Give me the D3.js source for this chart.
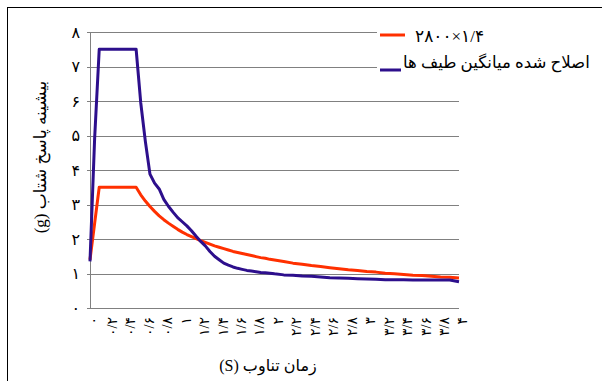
<!DOCTYPE html>
<html>
<head>
<meta charset="utf-8">
<script src="https://cdn.jsdelivr.net/npm/d3@7"></script>
<style>
  html, body { margin: 0; padding: 0; background: #fff; }
  svg { display: block; }
  text { font-family: "Times New Roman", "Liberation Serif", "DejaVu Sans", serif; fill: #000; }
</style>
</head>
<body>
<svg id="chart" width="602" height="381"></svg>
<script>
// Periods (s) at which both spectra are sampled
const periods = [
  0, 0.05, 0.1, 0.15, 0.2, 0.25, 0.3, 0.35, 0.4, 0.45, 0.5,
  0.55, 0.6, 0.65, 0.7, 0.75, 0.8, 0.85, 0.9, 0.95, 1.0,
  1.05, 1.1, 1.15, 1.2, 1.25, 1.3, 1.35, 1.4, 1.45, 1.5,
  1.55, 1.6, 1.65, 1.7, 1.75, 1.8, 1.85, 1.9, 1.95, 2.0,
  2.1, 2.2, 2.3, 2.4, 2.5, 2.6, 2.7, 2.8, 2.9, 3.0,
  3.1, 3.2, 3.3, 3.4, 3.5, 3.6, 3.7, 3.8, 3.9, 4.0
];

// Standard 2800 design spectrum scaled by 1.4 (g)
const code2800 = [
  1.40, 2.45, 3.50, 3.50, 3.50, 3.50, 3.50, 3.50, 3.50, 3.50, 3.50,
  3.28, 3.10, 2.94, 2.80, 2.67, 2.56, 2.46, 2.37, 2.28, 2.20,
  2.13, 2.07, 2.01, 1.95, 1.90, 1.85, 1.80, 1.76, 1.72, 1.68,
  1.64, 1.61, 1.58, 1.55, 1.52, 1.49, 1.46, 1.44, 1.41, 1.39,
  1.35, 1.30, 1.27, 1.23, 1.20, 1.17, 1.14, 1.11, 1.09, 1.06,
  1.04, 1.01, 0.99, 0.97, 0.95, 0.94, 0.92, 0.90, 0.89, 0.87
];

// Scaled average of the record spectra (g)
const averagedSpectrum = [
  1.35, 4.90, 7.50, 7.50, 7.50, 7.50, 7.50, 7.50, 7.50, 7.50, 7.50,
  5.95, 4.83, 3.88, 3.62, 3.45, 3.15, 2.95, 2.78, 2.62, 2.50,
  2.38, 2.24, 2.08, 1.93, 1.80, 1.64, 1.50, 1.40, 1.30, 1.24,
  1.19, 1.15, 1.12, 1.09, 1.07, 1.05, 1.03, 1.02, 1.01, 0.99,
  0.96, 0.95, 0.93, 0.92, 0.90, 0.88, 0.87, 0.86, 0.85, 0.84,
  0.83, 0.82, 0.82, 0.82, 0.81, 0.81, 0.81, 0.81, 0.81, 0.76
];

const xTickValues = [0, 0.2, 0.4, 0.6, 0.8, 1, 1.2, 1.4, 1.6, 1.8, 2,
                     2.2, 2.4, 2.6, 2.8, 3, 3.2, 3.4, 3.6, 3.8, 4];
const xTickLabels = ["۰", "۰/۲", "۰/۴", "۰/۶", "۰/۸", "۱", "۱/۲", "۱/۴", "۱/۶", "۱/۸", "۲",
                     "۲/۲", "۲/۴", "۲/۶", "۲/۸", "۳", "۳/۲", "۳/۴", "۳/۶", "۳/۸", "۴"];
const yTickValues = [0, 1, 2, 3, 4, 5, 6, 7, 8];
const yTickLabels = ["۰", "۱", "۲", "۳", "۴", "۵", "۶", "۷", "۸"];

const seriesNames = ["۲۸۰۰×۱/۴", "اصلاح شده میانگین طیف ها"];
const seriesColors = ["#ff3000", "#2d0f8c"];

const svg = d3.select("#chart");
const plot = { left: 90, right: 459, top: 32, bottom: 308 };

const x = d3.scaleLinear().domain([0, 4]).range([plot.left, plot.right]);
const y = d3.scaleLinear().domain([0, 8]).range([plot.bottom, plot.top]);

// outer frame
svg.append("rect")
  .attr("x", 7.5).attr("y", 7.5)
  .attr("width", 700).attr("height", 500)
  .attr("fill", "none").attr("stroke", "#000").attr("stroke-width", 1);

// horizontal gridlines (with short outward ticks)
svg.append("g")
  .selectAll("line")
  .data(yTickValues)
  .join("line")
  .attr("x1", plot.left - 3).attr("x2", plot.right)
  .attr("y1", d => Math.round(y(d)) + 0.5).attr("y2", d => Math.round(y(d)) + 0.5)
  .attr("stroke", "#808080").attr("stroke-width", 1);

// y axis
const yAxis = svg.append("g")
  .attr("transform", `translate(${plot.left},0)`)
  .call(d3.axisLeft(y).tickValues(yTickValues)
    .tickFormat((d, i) => yTickLabels[i]).tickSize(0).tickPadding(10));
yAxis.select(".domain").remove();
yAxis.selectAll("text").style("font-size", "16px");

svg.append("line")
  .attr("x1", plot.left + 0.5).attr("x2", plot.left + 0.5)
  .attr("y1", plot.top).attr("y2", plot.bottom)
  .attr("stroke", "#808080").attr("stroke-width", 1);

// x axis with vertical labels
const xAxis = svg.append("g")
  .attr("transform", `translate(0,${plot.bottom})`)
  .call(d3.axisBottom(x).tickValues(xTickValues)
    .tickFormat((d, i) => xTickLabels[i]).tickSize(0));
xAxis.select(".domain").remove();
xAxis.selectAll("text")
  .attr("transform", "rotate(-90)")
  .attr("text-anchor", "end")
  .attr("x", -9).attr("y", 3).attr("dy", "0.35em")
  .style("font-size", "14px");

// spectra
const line = d3.line()
  .x((d, i) => x(periods[i]))
  .y(d => y(d));

[code2800, averagedSpectrum].forEach((values, k) => {
  svg.append("path")
    .datum(values)
    .attr("d", line)
    .attr("fill", "none")
    .attr("stroke", seriesColors[k])
    .attr("stroke-width", 3)
    .attr("stroke-linejoin", "round");
});

// legend
const legend = svg.append("g");
legend.append("rect")
  .attr("x", 377).attr("y", 17).attr("width", 222).attr("height", 66)
  .attr("fill", "#fff");
legend.append("line")
  .attr("x1", 380).attr("x2", 405).attr("y1", 35).attr("y2", 35)
  .attr("stroke", seriesColors[0]).attr("stroke-width", 3);
legend.append("text")
  .attr("x", 415).attr("y", 42)
  .style("font-size", "17px")
  .style("letter-spacing", "1px")
  .text(seriesNames[0]);
legend.append("line")
  .attr("x1", 380).attr("x2", 401).attr("y1", 70).attr("y2", 70)
  .attr("stroke", seriesColors[1]).attr("stroke-width", 3);
legend.append("text")
  .attr("x", 403).attr("y", 68)
  .style("font-size", "16.6px")
  .text(seriesNames[1]);

// axis titles
svg.append("text")
  .attr("transform", "translate(46,157) rotate(-90)")
  .attr("text-anchor", "middle")
  .attr("direction", "rtl")
  .style("font-size", "17px")
  .text("بیشینه پاسخ شتاب (g)");

svg.append("text")
  .attr("x", 268).attr("y", 371)
  .attr("text-anchor", "middle")
  .attr("direction", "rtl")
  .style("font-size", "16px")
  .text("زمان تناوب (S)");
</script>
</body>
</html>
